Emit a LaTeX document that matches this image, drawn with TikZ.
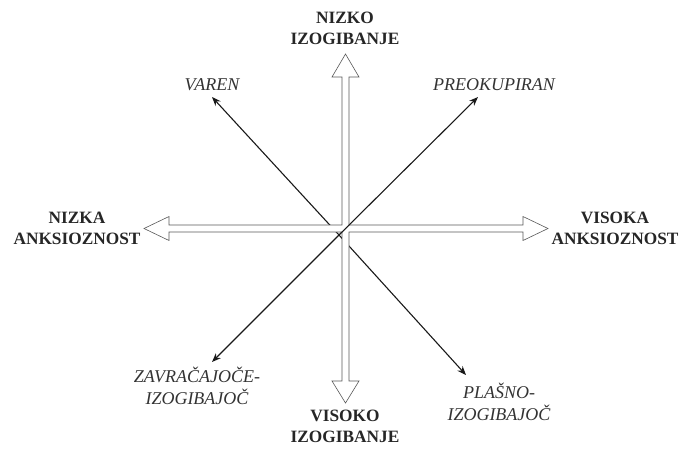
\documentclass[tikz,border=0pt]{standalone}
\usepackage{fontspec}
\setmainfont{Liberation Serif}
\usetikzlibrary{arrows.meta}
\begin{document}
\begin{tikzpicture}[x=1pt,y=-1pt,
  axislabel/.style={font=\fontsize{17.3}{21}\selectfont\bfseries, text=black!85, align=center, inner sep=0pt},
  typelabel/.style={font=\fontsize{18}{22}\selectfont\itshape, text=black!80, align=center, inner sep=0pt},
  diag/.style={line width=1.1pt, black!90, -{Stealth[length=9pt,width=7pt]}},
  hollow/.style={draw=black!65, line width=0.6pt, fill=white, line join=miter}]
\useasboundingbox (0,0) rectangle (681,451);
% centre of the diagonals
\coordinate (c) at (339,235);
\coordinate (varen) at (212,97);
\coordinate (preok) at (478,97);
\coordinate (zavr) at (212,362);
\coordinate (plasno) at (466,375);
% diagonals drawn beneath the cross
\draw[diag] (c) -- (varen);
\draw[diag] (c) -- (plasno);
% hollow double-headed cross
\draw[hollow] (345.5,54) -- (359,77) -- (349,77) -- (349,225) -- (523,225) -- (523,216.5)
  -- (548,228.5) -- (523,240.5) -- (523,232) -- (349,232) -- (349,381) -- (359,381)
  -- (345.5,403) -- (332,381) -- (342,381) -- (342,232) -- (169,232) -- (169,240.5)
  -- (144,228.5) -- (169,216.5) -- (169,225) -- (342,225) -- (342,77) -- (332,77) -- cycle;
% diagonals drawn over the cross
\draw[diag] (c) -- (preok);
\draw[diag] (c) -- (zavr);
% axis labels
\node[axislabel] (top) at (345,28) {NIZKO\\IZOGIBANJE};
\node[axislabel] (bottom) at (345,426) {VISOKO\\IZOGIBANJE};
\node[axislabel] (left) at (77,228) {NIZKA\\ANKSIOZNOST};
\node[axislabel] (right) at (615,228) {VISOKA\\ANKSIOZNOST};
% type labels
\node[typelabel] (lvaren) at (212,85) {VAREN};
\node[typelabel] (lpreok) at (494,85) {PREOKUPIRAN};
\node[typelabel] (lzavr) at (197,386) {ZAVRAČAJOČE-\\IZOGIBAJOČ};
\node[typelabel] (lplasno) at (499,402) {PLAŠNO-\\IZOGIBAJOČ};
\end{tikzpicture}
\end{document}
